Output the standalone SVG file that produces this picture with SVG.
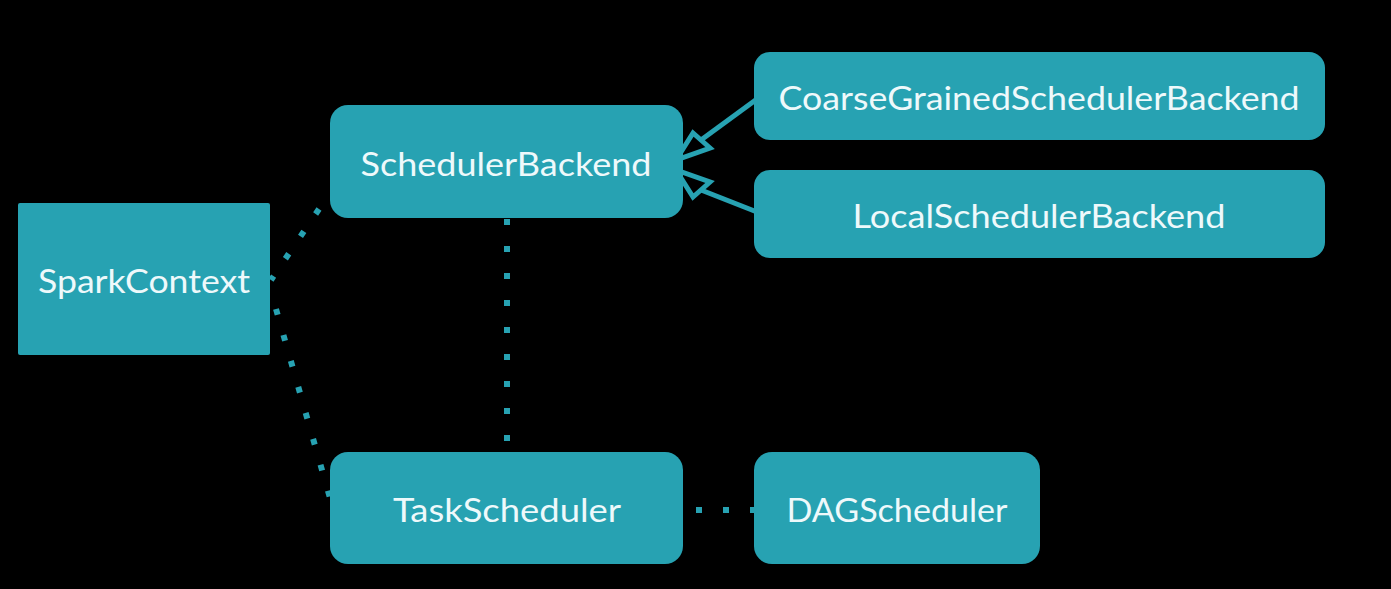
<svg xmlns="http://www.w3.org/2000/svg" width="1391" height="589" viewBox="0 0 1391 589">
<style>
.box{fill:#27a2b2}
.lbl{font-family:Lato,"Liberation Sans",sans-serif;font-size:32px;fill:#eef9fb;text-anchor:middle}
.dot{stroke:#27a2b2;stroke-width:6;stroke-dasharray:6 21;fill:none}
.inh{stroke:#27a2b2;stroke-width:5;fill:none;stroke-linejoin:miter}
</style>
<rect width="1391" height="589" fill="#000"/>
<g id="connectors">
<line class="dot" x1="319" y1="209" x2="271" y2="280"/>
<line class="dot" x1="276" y1="309" x2="332" y2="505"/>
<line class="dot" x1="507" y1="219" x2="507" y2="452"/>
<line class="dot" x1="696" y1="510" x2="760" y2="510"/>
<polygon class="inh" points="676,160 693,133 710,148"/>
<line class="inh" x1="701" y1="140" x2="757" y2="99"/>
<polygon class="inh" points="676,170 693,197 710,182"/>
<line class="inh" x1="701" y1="190" x2="757" y2="212"/>
</g>
<g id="SparkContext"><rect class="box" x="18" y="203" width="252" height="152" rx="2"/><text class="lbl" x="144" y="293" textLength="212" lengthAdjust="spacingAndGlyphs">SparkContext</text></g>
<g id="SchedulerBackend"><rect class="box" x="330" y="105" width="353" height="113" rx="18"/><text class="lbl" x="506" y="176" textLength="291" lengthAdjust="spacingAndGlyphs">SchedulerBackend</text></g>
<g id="CoarseGrainedSchedulerBackend"><rect class="box" x="754" y="52" width="571" height="88" rx="16"/><text class="lbl" x="1039" y="110" textLength="521" lengthAdjust="spacingAndGlyphs">CoarseGrainedSchedulerBackend</text></g>
<g id="LocalSchedulerBackend"><rect class="box" x="754" y="170" width="571" height="88" rx="16"/><text class="lbl" x="1039" y="228" textLength="373" lengthAdjust="spacingAndGlyphs">LocalSchedulerBackend</text></g>
<g id="TaskScheduler"><rect class="box" x="330" y="452" width="353" height="112" rx="18"/><text class="lbl" x="507" y="522" textLength="228" lengthAdjust="spacingAndGlyphs">TaskScheduler</text></g>
<g id="DAGScheduler"><rect class="box" x="754" y="452" width="286" height="112" rx="18"/><text class="lbl" x="897" y="522" textLength="221" lengthAdjust="spacingAndGlyphs">DAGScheduler</text></g>
</svg>
